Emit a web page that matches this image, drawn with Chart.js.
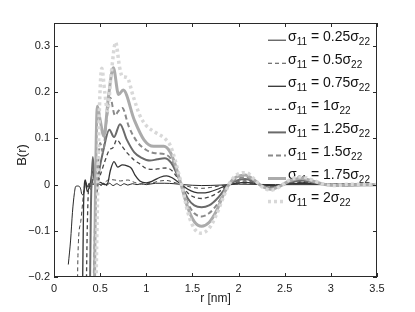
<!DOCTYPE html>
<html>
<head>
<meta charset="utf-8">
<script src="https://cdn.jsdelivr.net/npm/chart.js@4.4.0/dist/chart.umd.min.js"></script>
<style>
  html, body { margin: 0; padding: 0; background: #fff; }
</style>
</head>
<body>
<canvas id="chart" width="415" height="312"></canvas>
<script>
// sigma_11 / sigma_22 ratios (legend labels)
const ratios = ['0.25', '0.5', '0.75', '1', '1.25', '1.5', '1.75', '2'];

// axis ticks
const xTicks = [0, 0.5, 1, 1.5, 2, 2.5, 3, 3.5];
const yTicks = [-0.2, -0.1, 0, 0.1, 0.2, 0.3];

// B(r) curves (r in nm)
const r025 = [0.155, 0.18, 0.2, 0.22, 0.235, 0.255, 0.275, 0.29, 0.3, 0.315, 0.33, 0.345, 0.36, 0.38, 0.4, 0.42, 0.45, 0.48, 0.51, 0.54, 0.57, 0.6, 0.64, 0.68, 0.72, 0.76, 0.8, 0.85, 0.9, 0.95, 1.0, 1.1, 1.2, 1.3, 1.4, 1.6, 1.8, 2.0, 2.4, 3.5];
const b025 = [-0.173, -0.12, -0.06, -0.02, -0.004, -0.003, -0.004, -0.01, -0.02, -0.022, -0.01, 0.005, -0.005, 0.003, -0.004, 0.002, -0.003, 0.003, -0.002, 0.003, -0.002, 0.003, -0.002, 0.002, -0.002, 0.002, -0.001, 0.002, 0.0, 0.002, 0.0, 0.003, 0.003, 0.002, 0.0, -0.002, -0.001, 0.001, 0.0, 0.0];

const r05 = [0.245, 0.26, 0.29, 0.32, 0.34, 0.37, 0.41, 0.45, 0.5, 0.55, 0.6, 0.66, 0.72, 0.8, 0.87, 0.95, 1.05, 1.15, 1.22, 1.3, 1.38, 1.5, 1.6, 1.7, 1.82, 1.92, 2.05, 2.2, 2.35, 2.5, 2.7, 3.5];
const b05 = [-0.4, -0.15, -0.08, -0.02, 0.005, -0.01, 0.0, 0.005, 0.0, 0.005, 0.011, 0.01, 0.008, 0.01, 0.005, 0.001, 0.003, 0.008, 0.009, 0.005, 0.0, -0.006, -0.008, -0.006, -0.002, 0.0, 0.003, 0.001, -0.002, 0.0, 0.002, 0.0];

const r075 = [0.3, 0.32, 0.34, 0.36, 0.39, 0.42, 0.45, 0.5, 0.55, 0.58, 0.61, 0.65, 0.69, 0.74, 0.8, 0.84, 0.88, 0.93, 1.0, 1.07, 1.15, 1.22, 1.28, 1.33, 1.38, 1.45, 1.52, 1.6, 1.68, 1.77, 1.85, 1.92, 2.0, 2.07, 2.17, 2.3, 2.4, 2.55, 2.7, 2.85, 3.5];
const b075 = [-0.4, -0.05, 0.01, -0.015, 0.0, 0.03, 0.0, 0.005, 0.0, 0.002, 0.03, 0.05, 0.038, 0.043, 0.04, 0.035, 0.02, 0.008, 0.004, 0.008, 0.016, 0.019, 0.015, 0.008, 0.0, -0.01, -0.016, -0.018, -0.016, -0.01, -0.003, 0.001, 0.004, 0.005, 0.003, -0.002, -0.002, 0.002, 0.003, 0.001, 0.0];

const r1 = [0.34, 0.36, 0.38, 0.4, 0.43, 0.46, 0.5, 0.55, 0.6, 0.64, 0.68, 0.73, 0.8, 0.87, 0.93, 1.0, 1.08, 1.15, 1.22, 1.28, 1.33, 1.38, 1.45, 1.52, 1.6, 1.68, 1.77, 1.85, 1.91, 2.0, 2.07, 2.17, 2.25, 2.35, 2.45, 2.55, 2.68, 2.8, 3.0, 3.5];
const b1 = [-0.4, -0.1, 0.0, -0.01, 0.02, 0.0, 0.02, 0.05, 0.075, 0.08, 0.097, 0.085, 0.067, 0.053, 0.045, 0.035, 0.033, 0.035, 0.036, 0.03, 0.017, 0.002, -0.018, -0.027, -0.03, -0.027, -0.018, -0.006, 0.001, 0.006, 0.008, 0.004, -0.001, -0.005, -0.001, 0.003, 0.006, 0.003, 0.0, 0.0];

const r125 = [0.38, 0.4, 0.42, 0.44, 0.46, 0.49, 0.53, 0.6, 0.65, 0.715, 0.79, 0.87, 0.95, 1.04, 1.12, 1.2, 1.27, 1.32, 1.37, 1.45, 1.52, 1.6, 1.68, 1.77, 1.85, 1.91, 2.0, 2.07, 2.17, 2.25, 2.35, 2.45, 2.55, 2.68, 2.8, 2.92, 3.5];
const b125 = [-0.4, -0.05, 0.06, 0.01, -0.02, 0.03, 0.07, 0.119, 0.103, 0.131, 0.097, 0.07, 0.058, 0.052, 0.055, 0.057, 0.047, 0.028, 0.004, -0.03, -0.045, -0.049, -0.045, -0.03, -0.01, 0.002, 0.01, 0.012, 0.006, -0.002, -0.007, -0.002, 0.005, 0.009, 0.005, 0.001, 0.0];

const r15 = [0.41, 0.45, 0.48, 0.5, 0.53, 0.57, 0.61, 0.66, 0.7, 0.74, 0.81, 0.9, 1.0, 1.1, 1.2, 1.27, 1.32, 1.37, 1.45, 1.52, 1.6, 1.68, 1.77, 1.85, 1.91, 2.0, 2.07, 2.17, 2.25, 2.35, 2.45, 2.55, 2.68, 2.8, 2.92, 3.05, 3.5];
const b15 = [-0.4, -0.05, 0.05, 0.09, 0.07, 0.14, 0.188, 0.15, 0.16, 0.166, 0.126, 0.093, 0.075, 0.068, 0.066, 0.055, 0.035, 0.005, -0.04, -0.062, -0.069, -0.062, -0.042, -0.015, 0.003, 0.013, 0.016, 0.008, -0.003, -0.009, -0.003, 0.007, 0.012, 0.007, 0.001, -0.001, 0.0];

const r175 = [0.43, 0.45, 0.47, 0.5, 0.54, 0.59, 0.643, 0.7, 0.75, 0.87, 0.975, 1.08, 1.19, 1.26, 1.31, 1.37, 1.45, 1.52, 1.6, 1.68, 1.76, 1.84, 1.9, 1.97, 2.07, 2.17, 2.25, 2.35, 2.45, 2.55, 2.68, 2.8, 2.92, 3.05, 3.5];
const b175 = [-0.4, 0.0, 0.17, 0.14, 0.105, 0.19, 0.253, 0.195, 0.205, 0.14, 0.097, 0.083, 0.083, 0.07, 0.045, 0.005, -0.05, -0.08, -0.09, -0.082, -0.057, -0.02, 0.002, 0.016, 0.021, 0.01, -0.003, -0.01, -0.003, 0.008, 0.014, 0.008, 0.001, -0.002, 0.0];

const r2 = [0.44, 0.47, 0.49, 0.518, 0.55, 0.58, 0.62, 0.668, 0.71, 0.74, 0.79, 0.86, 0.93, 1.0, 1.1, 1.2, 1.26, 1.31, 1.35, 1.39, 1.45, 1.52, 1.59, 1.68, 1.76, 1.84, 1.9, 1.97, 2.08, 2.17, 2.25, 2.35, 2.45, 2.55, 2.68, 2.8, 2.92, 3.05, 3.2, 3.5];
const b2 = [-0.4, -0.05, 0.15, 0.252, 0.2, 0.16, 0.24, 0.308, 0.255, 0.234, 0.232, 0.19, 0.15, 0.128, 0.113, 0.1, 0.085, 0.055, 0.025, -0.005, -0.06, -0.095, -0.105, -0.095, -0.065, -0.025, 0.002, 0.02, 0.026, 0.012, -0.004, -0.012, -0.004, 0.01, 0.017, 0.01, 0.001, -0.002, 0.001, 0.0];

const seriesR = [r025, r05, r075, r1, r125, r15, r175, r2];
const seriesB = [b025, b05, b075, b1, b125, b15, b175, b2];

// line styles, matlab-like greys
const colors = ['#111111', '#4a4a4a', '#333333', '#474747', '#6a6a6a', '#8a8a8a', '#ababab', '#d8d8d8'];
const widths = [0.9, 1, 1.3, 1.3, 2, 2, 3, 3.5];
const dashes = [[], [4, 3], [], [4, 3], [], [5, 3], [], [3, 3]];

const FONT = '"Liberation Sans", Arial, Helvetica, sans-serif';

function fmt(v) {
    v = Math.round(v * 10) / 10;
    if (v === 0) return '0';
    return String(v).replace('-', '\u2212');
}

const datasets = ratios.map((lab, i) => ({
    label: lab,
    data: seriesR[i].map((r, k) => ({ x: r, y: seriesB[i][k] })),
    borderColor: colors[i],
    borderWidth: widths[i],
    borderDash: dashes[i],
    pointRadius: 0,
    fill: false,
    cubicInterpolationMode: 'monotone',
    order: ratios.length - i   // later series on top
}));

// legend with subscripts, drawn under the curves like in the original
function drawLegend(chart) {
    const ctx = chart.ctx;
    chart.data.datasets.forEach((ds, i) => {
        const y = 36.7 + i * 23.05;
        ctx.save();
        ctx.strokeStyle = ds.borderColor;
        ctx.lineWidth = ds.borderWidth;
        ctx.setLineDash(ds.borderDash);
        ctx.beginPath();
        ctx.moveTo(268, y + 3.5);
        ctx.lineTo(286, y + 3.5);
        ctx.stroke();
        ctx.setLineDash([]);

        ctx.fillStyle = '#111';
        ctx.textBaseline = 'middle';
        ctx.textAlign = 'left';
        let x = 288;
        const put = (s, yy, size) => {
            ctx.font = size + 'px ' + FONT;
            ctx.fillText(s, x, yy);
            x += ctx.measureText(s).width;
        };
        put('\u03c3', y, 14);
        put('11', y + 5.5, 10);
        put(' = ' + ds.label, y, 14);
        put('\u03c3', y, 14);
        put('22', y + 5.5, 10);
        ctx.restore();
    });
}

// box, inward ticks and axis titles
const frame = {
    id: 'frame',
    beforeDatasetsDraw(chart) {
        drawLegend(chart);
    },
    afterDraw(chart) {
        const { ctx, chartArea: a, scales } = chart;
        ctx.save();
        ctx.strokeStyle = '#2a2a2a';
        ctx.lineWidth = 1;
        ctx.strokeRect(a.left + 0.5, a.top + 0.5, a.right - a.left - 1, a.bottom - a.top - 1);
        ctx.beginPath();
        xTicks.forEach(v => {
            const px = Math.round(scales.x.getPixelForValue(v)) + 0.5;
            ctx.moveTo(px, a.bottom); ctx.lineTo(px, a.bottom - 4);
            ctx.moveTo(px, a.top); ctx.lineTo(px, a.top + 4);
        });
        yTicks.forEach(v => {
            const py = Math.round(scales.y.getPixelForValue(v)) + 0.5;
            ctx.moveTo(a.left, py); ctx.lineTo(a.left + 4, py);
            ctx.moveTo(a.right, py); ctx.lineTo(a.right - 4, py);
        });
        ctx.stroke();

        ctx.fillStyle = '#222';
        ctx.textAlign = 'center';
        ctx.textBaseline = 'middle';
        ctx.font = '12px ' + FONT;
        ctx.fillText('r [nm]', (a.left + a.right) / 2, 299);
        ctx.translate(22, 155);
        ctx.rotate(-Math.PI / 2);
        ctx.font = '13px ' + FONT;
        ctx.fillText('B(r)', 0, 0);
        ctx.restore();
    }
};

new Chart(document.getElementById('chart'), {
    type: 'line',
    data: { datasets: datasets },
    plugins: [frame],
    options: {
        responsive: false,
        animation: false,
        layout: { padding: { top: 23, right: 38, left: 0, bottom: 0 } },
        plugins: { legend: { display: false }, tooltip: { enabled: false } },
        scales: {
            x: {
                type: 'linear',
                min: 0,
                max: 3.5,
                afterFit: s => { s.height = 35; },
                afterBuildTicks: s => { s.ticks = xTicks.map(v => ({ value: v })); },
                grid: { display: false, drawTicks: false },
                border: { display: false },
                ticks: {
                    padding: 5,
                    maxRotation: 0,
                    autoSkip: false,
                    color: '#222',
                    font: { family: FONT, size: 11 },
                    callback: v => fmt(v)
                }
            },
            y: {
                type: 'linear',
                min: -0.2,
                max: 0.35,
                afterFit: s => { s.width = 54; },
                afterBuildTicks: s => { s.ticks = yTicks.map(v => ({ value: v })); },
                grid: { display: false, drawTicks: false },
                border: { display: false },
                ticks: {
                    padding: 4,
                    color: '#222',
                    font: { family: FONT, size: 11 },
                    callback: v => fmt(v)
                }
            }
        }
    }
});
</script>
</body>
</html>
